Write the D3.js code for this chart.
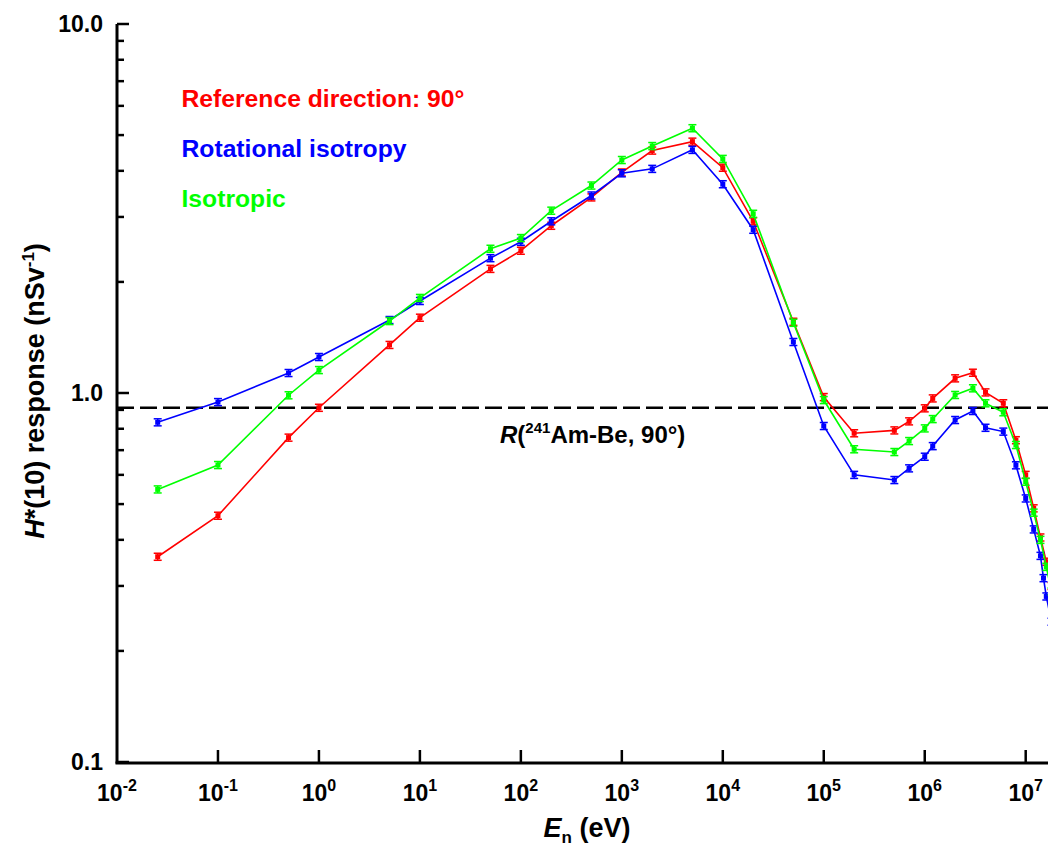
<!DOCTYPE html>
<html>
<head>
  <meta charset="utf-8">
  <script src="https://d3js.org/d3.v7.min.js"></script>
  <style>
    body { margin: 0; background: #ffffff; }
    text {
      font-family: "Liberation Sans", Arial, sans-serif;
      font-weight: bold;
      fill: #000000;
    }
    .tickLabel { font-size: 23px; }
    .legend { font-size: 24.7px; }
    .axisTitle { font-size: 27px; }
    .refLabel { font-size: 24px; }
  </style>
</head>
<body>
<script>

  // neutron energies (eV)
  const energies = [0.0253, 0.1, 0.5, 1, 5, 10, 50, 100, 200, 500,
    1e3, 2e3, 5e3, 1e4, 2e4, 5e4, 1e5, 2e5, 5e5, 7e5,
    1e6, 1.2e6, 2e6, 3e6, 4e6, 6e6, 8e6, 1e7, 1.2e7, 1.4e7, 1.6e7, 1.8e7];
  const energiesBlue = [0.0253, 0.1, 0.5, 1, 5, 10, 50, 100, 200, 500,
    1e3, 2e3, 5e3, 1e4, 2e4, 5e4, 1e5, 2e5, 5e5, 7e5,
    1e6, 1.2e6, 2e6, 3e6, 4e6, 6e6, 8e6, 1e7, 1.2e7, 1.4e7, 1.5e7, 1.6e7, 1.8e7];

  // H*(10) response (nSv^-1)
  const refDirection = [0.360, 0.465, 0.757, 0.912, 1.35, 1.60, 2.17, 2.43, 2.84, 3.39,
    3.96, 4.54, 4.80, 4.08, 2.92, 1.56, 0.975, 0.778, 0.792, 0.838,
    0.909, 0.967, 1.096, 1.135, 1.004, 0.938, 0.745, 0.600, 0.487, 0.406, 0.349, 0.30];
  const rotIsotropy = [0.833, 0.945, 1.133, 1.252, 1.577, 1.776, 2.32, 2.57, 2.92, 3.43,
    3.94, 4.05, 4.56, 3.68, 2.77, 1.375, 0.814, 0.600, 0.581, 0.625,
    0.672, 0.718, 0.845, 0.894, 0.805, 0.786, 0.637, 0.518, 0.427, 0.362, 0.315, 0.281, 0.24];
  const isotropic = [0.548, 0.638, 0.986, 1.154, 1.567, 1.81, 2.46, 2.63, 3.12, 3.65,
    4.28, 4.67, 5.22, 4.31, 3.06, 1.55, 0.957, 0.704, 0.692, 0.741,
    0.802, 0.850, 0.988, 1.03, 0.938, 0.887, 0.723, 0.575, 0.474, 0.400, 0.338, 0.29];

  const amBeRef = 0.912;
  const relErr = 0.022;

  const xTicks = [1e-2, 1e-1, 1e0, 1e1, 1e2, 1e3, 1e4, 1e5, 1e6, 1e7];
  const yTicks = [0.1, 1, 10];
  const yTickLabels = ['0.1', '1.0', '10.0'];
  const yMinor = [0.2, 0.3, 0.4, 0.5, 0.6, 0.7, 0.8, 0.9, 2, 3, 4, 5, 6, 7, 8, 9];

  const series = [
    {name: 'Reference direction: 90\u00b0', colour: '#ff0000', xs: energies, ys: refDirection},
    {name: 'Rotational isotropy', colour: '#0000ff', xs: energiesBlue, ys: rotIsotropy},
    {name: 'Isotropic', colour: '#00ff00', xs: energies, ys: isotropic}
  ];

  const width = 1048, height = 847;
  const plotLeft = 117, plotRight = 1048, plotTop = 24, plotBottom = 762;

  const x = d3.scaleLog().domain([1e-2, 1e7]).range([plotLeft, 1025.7]);
  const y = d3.scaleLog().domain([0.1, 10]).range([plotBottom, plotTop]);

  const svg = d3.select('body').append('svg')
    .attr('width', width)
    .attr('height', height);

  svg.append('clipPath').attr('id', 'plotClip')
    .append('rect')
    .attr('x', plotLeft).attr('y', 0)
    .attr('width', plotRight - plotLeft).attr('height', plotBottom + 1);

  const plot = svg.append('g').attr('clip-path', 'url(#plotClip)');

  // reference line
  plot.append('line')
    .attr('x1', plotLeft).attr('x2', plotRight)
    .attr('y1', y(amBeRef)).attr('y2', y(amBeRef))
    .attr('stroke', '#000')
    .attr('stroke-width', 2.5)
    .attr('stroke-dasharray', '17,6');

  series.forEach(s => {
    const pts = s.xs.map((e, i) => ({e: e, v: s.ys[i]}));
    const line = d3.line().x(d => x(d.e)).y(d => y(d.v));

    plot.append('path')
      .datum(pts)
      .attr('fill', 'none')
      .attr('stroke', s.colour)
      .attr('stroke-width', 1.6)
      .attr('d', line);

    const g = plot.append('g');
    const bars = g.selectAll('g.err').data(pts).enter().append('g')
      .attr('stroke', s.colour).attr('stroke-width', 1.5);
    bars.append('line')
      .attr('x1', d => x(d.e)).attr('x2', d => x(d.e))
      .attr('y1', d => y(d.v * (1 + relErr))).attr('y2', d => y(d.v * (1 - relErr)));
    bars.append('line')
      .attr('x1', d => x(d.e) - 4).attr('x2', d => x(d.e) + 4)
      .attr('y1', d => y(d.v * (1 + relErr))).attr('y2', d => y(d.v * (1 + relErr)));
    bars.append('line')
      .attr('x1', d => x(d.e) - 4).attr('x2', d => x(d.e) + 4)
      .attr('y1', d => y(d.v * (1 - relErr))).attr('y2', d => y(d.v * (1 - relErr)));

    g.selectAll('rect').data(pts).enter().append('rect')
      .attr('x', d => x(d.e) - 2.5)
      .attr('y', d => y(d.v) - 2.5)
      .attr('width', 5).attr('height', 5)
      .attr('fill', s.colour);
  });

  // axes
  const axes = svg.append('g').attr('stroke', '#000');
  axes.append('line')
    .attr('x1', plotLeft).attr('x2', plotLeft)
    .attr('y1', plotTop).attr('y2', plotBottom + 1.5)
    .attr('stroke-width', 3);
  axes.append('line')
    .attr('x1', plotLeft - 1.5).attr('x2', plotRight)
    .attr('y1', plotBottom + 1).attr('y2', plotBottom + 1)
    .attr('stroke-width', 3);

  axes.selectAll('line.ymaj').data(yTicks).enter().append('line')
    .attr('x1', plotLeft).attr('x2', plotLeft + 12)
    .attr('y1', d => y(d)).attr('y2', d => y(d))
    .attr('stroke-width', 2.5);
  axes.selectAll('line.ymin').data(yMinor).enter().append('line')
    .attr('x1', plotLeft).attr('x2', plotLeft + 7)
    .attr('y1', d => y(d)).attr('y2', d => y(d))
    .attr('stroke-width', 2.5);
  axes.selectAll('line.xmaj').data(xTicks.slice(1)).enter().append('line')
    .attr('x1', d => x(d)).attr('x2', d => x(d))
    .attr('y1', plotBottom + 1).attr('y2', plotBottom - 12)
    .attr('stroke-width', 2.5);

  svg.selectAll('text.ytl').data(yTicks).enter().append('text')
    .attr('class', 'tickLabel')
    .attr('x', 103)
    .attr('y', d => y(d) + 8)
    .style('text-anchor', 'end')
    .text((d, i) => yTickLabels[i]);

  const xl = svg.selectAll('text.xtl').data(xTicks).enter().append('text')
    .attr('class', 'tickLabel')
    .attr('x', d => x(d))
    .attr('y', 801)
    .style('text-anchor', 'middle');
  xl.append('tspan').text('10');
  xl.append('tspan')
    .attr('dy', -10)
    .style('font-size', '16px')
    .text(d => String(Math.round(Math.log10(d))));

  // titles
  const xt = svg.append('text')
    .attr('class', 'axisTitle')
    .attr('x', 587).attr('y', 837)
    .style('text-anchor', 'middle');
  xt.append('tspan').style('font-style', 'italic').text('E');
  xt.append('tspan').attr('dy', 6).style('font-size', '17px').text('n');
  xt.append('tspan').attr('dy', -6).text(' (eV)');

  const yt = svg.append('text')
    .attr('class', 'axisTitle')
    .attr('transform', 'translate(44,391) rotate(-90)')
    .style('text-anchor', 'middle');
  yt.append('tspan').style('font-style', 'italic').text('H');
  yt.append('tspan').text('*(10) response (nSv');
  yt.append('tspan').attr('dy', -10).style('font-size', '17px').text('-1');
  yt.append('tspan').attr('dy', 10).text(')');

  // legend
  svg.selectAll('text.legend').data(series).enter().append('text')
    .attr('class', 'legend')
    .attr('x', 181.5)
    .attr('y', (d, i) => 107 + i * 50)
    .style('fill', d => d.colour)
    .text(d => d.name);

  // reference label
  const rl = svg.append('text')
    .attr('class', 'refLabel')
    .attr('x', 500).attr('y', 443);
  rl.append('tspan').style('font-style', 'italic').text('R');
  rl.append('tspan').text('(');
  rl.append('tspan').attr('dy', -10).style('font-size', '15px').text('241');
  rl.append('tspan').attr('dy', 10).text('Am-Be, 90\u00b0)');

</script>
</body>
</html>
